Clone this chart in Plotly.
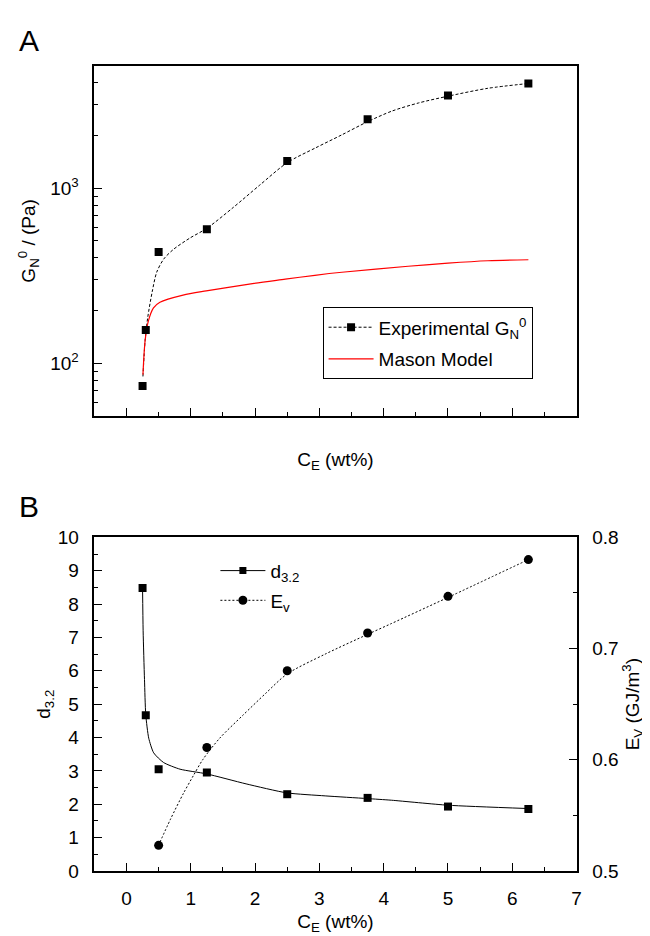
import plotly.graph_objects as go

# ---------------- Panel A data ----------------
ce_exp = [0.25, 0.3, 0.5, 1.25, 2.5, 3.75, 5.0, 6.25]
gn0_exp = [74, 155, 432, 583, 1430, 2480, 3390, 3970]

fit_a_x = [0.256, 0.29, 0.33, 0.40, 0.47, 0.58, 0.73, 0.99, 1.25, 1.66, 2.07, 2.5, 2.94, 3.35, 3.75, 4.13, 4.54, 5.0, 5.62, 6.25]
fit_a_y = [84, 135, 182, 256, 331, 394, 447, 520, 590, 776, 1040, 1400, 1700, 2019, 2400, 2761, 3069, 3357, 3724, 3966]

mason_x = [0.256, 0.29, 0.34, 0.42, 0.52, 0.88, 1.24, 1.96, 2.47, 2.93, 3.35, 4.38, 5.0, 5.62, 6.25]
mason_y = [86, 135, 174, 207, 223, 245, 259, 285, 302, 318, 331, 358, 373, 385, 390]

# ---------------- Panel B data ----------------
d32 = [8.48, 4.67, 3.05, 2.95, 2.30, 2.19, 1.93, 1.86]
d32_fit_x = [0.25, 0.259, 0.28, 0.30, 0.346, 0.423, 0.577, 0.833, 1.245, 1.86, 2.495, 3.09, 3.74, 4.12, 5.0, 6.25]
d32_fit_y = [8.48, 7.2, 5.74, 4.68, 3.98, 3.54, 3.25, 3.05, 2.91, 2.61, 2.34, 2.25, 2.17, 2.12, 1.97, 1.87]

ev_ce = [0.5, 1.25, 2.5, 3.75, 5.0, 6.25]
ev = [0.523, 0.611, 0.680, 0.714, 0.747, 0.780]
ev_fit_x = [0.496, 0.68, 0.885, 1.04, 1.19, 1.45, 1.81, 2.17, 2.495, 3.09, 3.74, 4.12, 5.0, 6.25]
ev_fit_y = [0.5227, 0.546, 0.5697, 0.5857, 0.6004, 0.6194, 0.640, 0.660, 0.677, 0.695, 0.7125, 0.7225, 0.746, 0.780]

log_minor = [60, 70, 80, 90, 200, 300, 400, 500, 600, 700, 800, 900, 2000, 3000, 4000]

FONT = "Liberation Sans, Arial, sans-serif"
FS = 19
fig = go.Figure()

# Panel A
fig.add_trace(go.Scatter(x=fit_a_x, y=fit_a_y, mode="lines",
                         line=dict(color="black", width=1, dash="3px,2px", shape="spline", smoothing=0.8),
                         showlegend=False, xaxis="x", yaxis="y", hoverinfo="skip"))
fig.add_trace(go.Scatter(x=mason_x, y=mason_y, mode="lines", line=dict(color="red", width=1.2, shape="spline", smoothing=0.8),
                         showlegend=False, xaxis="x", yaxis="y"))
fig.add_trace(go.Scatter(x=ce_exp, y=gn0_exp, mode="markers", marker=dict(symbol="square", size=8, color="black"),
                         showlegend=False, xaxis="x", yaxis="y"))
# legend entries A
fig.add_trace(go.Scatter(x=[None], y=[None], mode="lines+markers", name="Experimental G<sub>N</sub><sup>0</sup>",
                         line=dict(color="black", width=1, dash="3px,2px"), marker=dict(symbol="square", size=8, color="black"),
                         xaxis="x", yaxis="y", legend="legend", legendgroup="a1"))
fig.add_trace(go.Scatter(x=[None], y=[None], mode="lines", name="Mason Model",
                         line=dict(color="red", width=1.2), xaxis="x", yaxis="y", legend="legend", legendgroup="a2"))

# Panel B
fig.add_trace(go.Scatter(x=d32_fit_x, y=d32_fit_y, mode="lines", line=dict(color="black", width=1, shape="spline", smoothing=0.6),
                         showlegend=False, xaxis="x2", yaxis="y2", hoverinfo="skip"))
fig.add_trace(go.Scatter(x=ce_exp, y=d32, mode="markers", marker=dict(symbol="square", size=8, color="black"),
                         showlegend=False, xaxis="x2", yaxis="y2"))
fig.add_trace(go.Scatter(x=ev_fit_x, y=ev_fit_y, mode="lines",
                         line=dict(color="black", width=1, dash="2px,2px", shape="spline", smoothing=0.8),
                         showlegend=False, xaxis="x2", yaxis="y3", hoverinfo="skip"))
fig.add_trace(go.Scatter(x=ev_ce, y=ev, mode="markers", marker=dict(symbol="circle", size=9, color="black"),
                         showlegend=False, xaxis="x2", yaxis="y3"))
fig.add_trace(go.Scatter(x=[None], y=[None], mode="lines+markers", name="d<sub>3.2</sub>",
                         line=dict(color="black", width=1), marker=dict(symbol="square", size=7, color="black"),
                         xaxis="x2", yaxis="y2", legend="legend2", legendgroup="b1"))
fig.add_trace(go.Scatter(x=[None], y=[None], mode="lines+markers", name="E<sub>v</sub>",
                         line=dict(color="black", width=1, dash="2px,2px"), marker=dict(symbol="circle", size=9, color="black"),
                         xaxis="x2", yaxis="y3", legend="legend2", legendgroup="b2"))

X0, X1 = 87 / 650, 573 / 650
A_dom = [1 - 407 / 936, 1 - 49 / 936]
B_dom = [1 - 872.5 / 936, 1 - 531.3 / 936]

axis_common = dict(showline=True, linecolor="black", linewidth=1.5, ticks="inside", tickcolor="black",
                   showgrid=False, zeroline=False, tickfont=dict(size=FS, color="black", family=FONT))

fig.update_layout(
    width=650, height=936,
    margin=dict(l=0, r=0, t=0, b=0),
    paper_bgcolor="white", plot_bgcolor="white",
    font=dict(family=FONT, color="black", size=FS),
    xaxis=dict(**axis_common, domain=[X0, X1], anchor="y", range=[-0.5, 7], dtick=1, tick0=0, ticklen=8,
               showticklabels=False, mirror=True,
               minor=dict(dtick=0.5, tick0=0, ticks="inside", ticklen=4, tickcolor="black"),
               title=dict(text="C<sub>E</sub> (wt%)", standoff=36, font=dict(size=FS))),
    yaxis=dict(**axis_common, domain=A_dom, anchor="x", type="log", range=[1.69897, 3.69897],
               tickvals=[100, 1000], ticktext=["10<sup>2</sup>", "10<sup>3</sup>"], ticklen=8, mirror=True,
               minor=dict(tickvals=log_minor, ticks="inside", ticklen=4, tickcolor="black"),
               ticklabelstandoff=10,
               title=dict(text="G<sub>N</sub><sup>0</sup> / (Pa)", standoff=10, font=dict(size=FS))),
    xaxis2=dict(**axis_common, domain=[X0, X1], anchor="y2", range=[-0.5, 7], dtick=1, tick0=0, ticklen=8,
                mirror=True, ticklabelstandoff=10,
                minor=dict(dtick=0.5, tick0=0, ticks="inside", ticklen=4, tickcolor="black"),
                title=dict(text="C<sub>E</sub> (wt%)", standoff=6, font=dict(size=FS))),
    yaxis2=dict(**axis_common, domain=B_dom, anchor="x2", range=[0, 10], dtick=1, tick0=0, ticklen=8,
                ticklabelstandoff=10,
                minor=dict(dtick=0.5, tick0=0, ticks="inside", ticklen=4, tickcolor="black"),
                title=dict(text="d<sub>3.2</sub>", standoff=2, font=dict(size=FS))),
    yaxis3=dict(**axis_common, overlaying="y2", side="right", anchor="x2", range=[0.5, 0.8], dtick=0.1, tick0=0.5,
                tickformat=".1f", ticklen=8, ticklabelstandoff=10,
                minor=dict(dtick=0.05, tick0=0.5, ticks="inside", ticklen=4, tickcolor="black"),
                title=dict(text="E<sub>V</sub> (GJ/m<sup>3</sup>)", standoff=8, font=dict(size=FS))),
    legend=dict(x=317 / 650, y=1 - 296 / 936, xanchor="left", yanchor="top", bordercolor="black", borderwidth=1,
                bgcolor="white", font=dict(size=FS, family=FONT), traceorder="grouped", tracegroupgap=4,
                itemwidth=45, entrywidth=172),
    legend2=dict(x=209 / 650, y=1 - 546 / 936, xanchor="left", yanchor="top", borderwidth=0,
                 bgcolor="rgba(0,0,0,0)", font=dict(size=FS, family=FONT), traceorder="grouped", tracegroupgap=2,
                 itemwidth=45),
    annotations=[
        dict(text="A", x=9 / 650, y=1 - 23.5 / 936, xref="paper", yref="paper", xanchor="left", yanchor="middle",
             showarrow=False, font=dict(size=30, family=FONT)),
        dict(text="B", x=9 / 650, y=1 - 500 / 936, xref="paper", yref="paper", xanchor="left", yanchor="middle",
             showarrow=False, font=dict(size=30, family=FONT)),
    ],
)

fig.write_html("out.html")
